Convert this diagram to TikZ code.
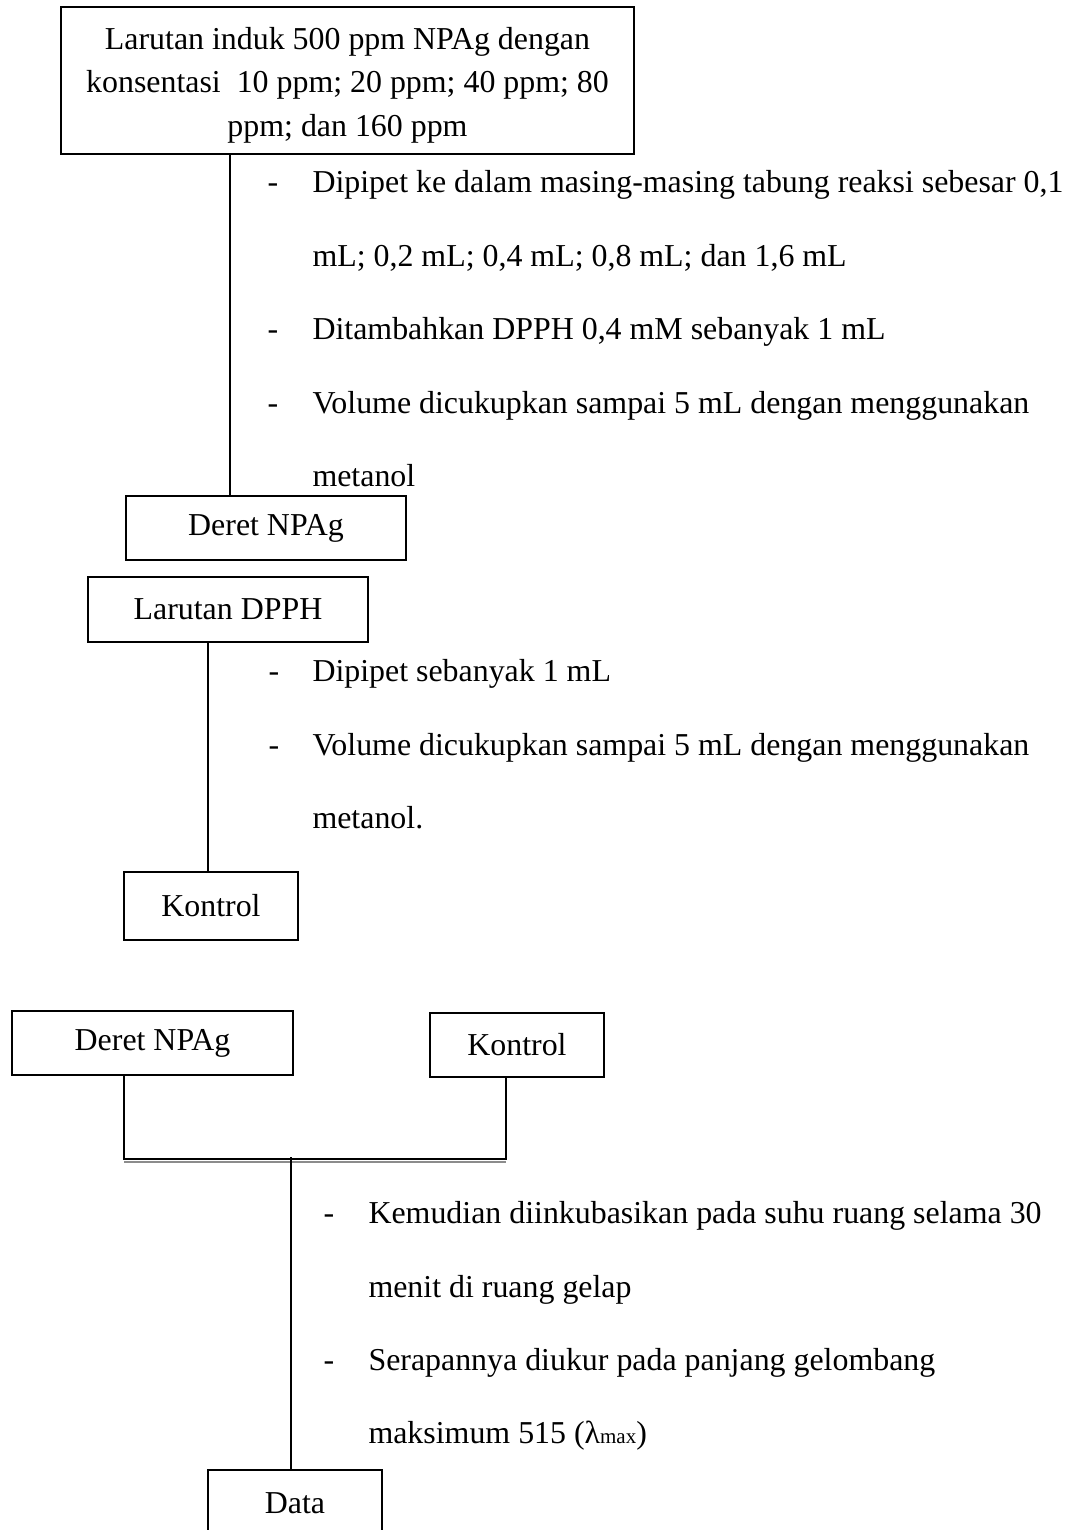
\documentclass[tikz,border=0pt]{standalone}
\usepackage{fontspec}
\setmainfont{Liberation Serif}
\def\pxu{0.381pt}
\begin{document}
\begin{tikzpicture}[x=0.381pt,y=-0.381pt,
  box/.style={draw,line width=1pt,inner sep=0pt,align=center,font=\fontsize{12.15}{16.6}\selectfont},
  boxtext/.style={inner sep=0pt,align=center,font=\fontsize{12.15}{16.6}\selectfont},
  conn/.style={line width=0.6pt},
  txt/.style={anchor=base west,inner sep=0pt,font=\fontsize{12.15}{14}\selectfont}]
\useasboundingbox (0,0) rectangle (1070,1530);
% boxes
\node[box,minimum width=573*\pxu,minimum height=147*\pxu] (top) at (347.5,80.5) {};
\node[boxtext] (toptext) at (347.5,85)
  {Larutan induk 500 ppm NPAg dengan\\konsentasi\ \ 10 ppm; 20 ppm; 40 ppm; 80\\ppm; dan 160 ppm};
\node[box,minimum width=280*\pxu,minimum height=64*\pxu] (deret1) at (266,528) {Deret NPAg};
\node[box,minimum width=280*\pxu,minimum height=65*\pxu] (dpph) at (228,609.5) {Larutan DPPH};
\node[box,minimum width=174*\pxu,minimum height=68*\pxu] (kontrol1) at (211,906) {Kontrol};
\node[box,minimum width=281*\pxu,minimum height=64*\pxu] (deret2) at (152.5,1043) {Deret NPAg};
\node[box,minimum width=174*\pxu,minimum height=64*\pxu] (kontrol2) at (517,1045) {Kontrol};
\node[box,minimum width=174*\pxu,minimum height=66*\pxu] (data) at (295,1503) {Data};
% group 1
\node[txt] (g1d1) at (267,192) {-};
\node[txt] (g1a) at (312,192) {Dipipet ke dalam masing-masing tabung reaksi sebesar 0,1};
\node[txt] (g1b) at (312,266) {mL; 0,2 mL; 0,4 mL; 0,8 mL; dan 1,6 mL};
\node[txt] (g1d2) at (267,339) {-};
\node[txt] (g1c) at (312,339) {Ditambahkan DPPH 0,4 mM sebanyak 1 mL};
\node[txt] (g1d3) at (267,413) {-};
\node[txt] (g1e) at (312,413) {Volume dicukupkan sampai 5 mL dengan menggunakan};
\node[txt] (g1f) at (312,486) {metanol};
% group 2
\node[txt] (g2d1) at (268,681) {-};
\node[txt] (g2a) at (312,681) {Dipipet sebanyak 1 mL};
\node[txt] (g2d2) at (268,755) {-};
\node[txt] (g2b) at (312,755) {Volume dicukupkan sampai 5 mL dengan menggunakan};
\node[txt] (g2c) at (312,828) {metanol.};
% group 3
\node[txt] (g3d1) at (323,1223) {-};
\node[txt] (g3a) at (368,1223) {Kemudian diinkubasikan pada suhu ruang selama 30};
\node[txt] (g3b) at (368,1297) {menit di ruang gelap};
\node[txt] (g3d2) at (323,1370) {-};
\node[txt] (g3c) at (368,1370) {Serapannya diukur pada panjang gelombang};
\node[txt] (g3e) at (368,1443) {maksimum 515 (λ{\fontsize{8}{8}\selectfont max})};
% connectors
\coordinate (xa) at (230,0);
\draw[conn] (top.south -| xa) -- (deret1.north -| xa);
\coordinate (xb) at (208,0);
\draw[conn] (dpph.south -| xb) -- (kontrol1.north -| xb);
\coordinate (ja) at (124,1159);
\coordinate (jb) at (506,1159);
\coordinate (ja2) at (124,1162);
\coordinate (jb2) at (506,1162);
\draw[conn] (deret2.south -| ja) -- (ja) -- (jb) -- (kontrol2.south -| jb);
\draw[line width=0.5pt,black!45] (ja2) -- (jb2);
\coordinate (jc) at (291,1157);
\draw[conn] (jc) -- (data.north -| jc);
\end{tikzpicture}
\end{document}
